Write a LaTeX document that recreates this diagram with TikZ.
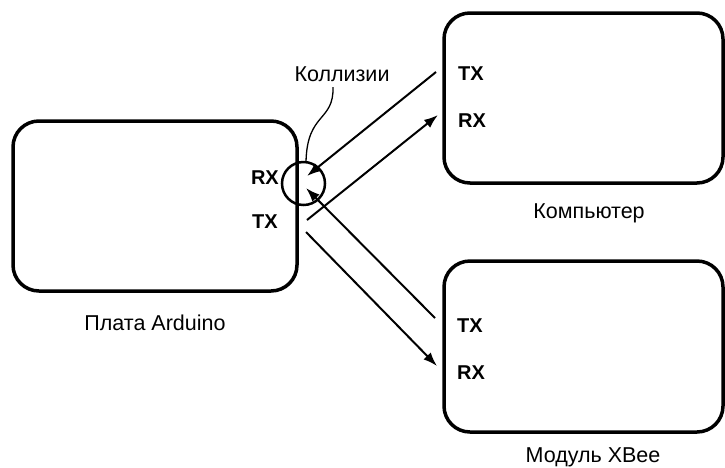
\documentclass[tikz,border=0pt]{standalone}
\usepackage{fontspec}
\setmainfont{Liberation Sans}
\usetikzlibrary{arrows.meta}
\begin{document}
\begin{tikzpicture}[x=1pt,y=-1pt,
  board/.style={draw, line width=3.5pt, rounded corners=26pt, inner sep=0pt},
  pin/.style={font=\bfseries\fontsize{20}{20}\selectfont, inner sep=0pt},
  caption/.style={font=\fontsize{21.5}{21.5}\selectfont, inner sep=0pt, anchor=base},
  wire/.style={line width=2pt, -{Latex[length=14pt,width=10pt]}},
]
\useasboundingbox (0,0) rectangle (725,467);

% boards
\node[board, minimum width=284pt, minimum height=170pt] (ard) at (155,206) {};
\node[board, minimum width=279pt, minimum height=170pt] (pc) at (583.5,98) {};
\node[board, minimum width=279pt, minimum height=171pt] (xb) at (583.5,346.5) {};

% pin labels
\node[pin, anchor=base east] (ardrx) at (279,184) {RX};
\node[pin, anchor=base east] (ardtx) at (278,228) {TX};
\node[pin, anchor=base west] (pctx) at (458,80) {TX};
\node[pin, anchor=base west] (pcrx) at (458,127) {RX};
\node[pin, anchor=base west] (xbtx) at (457,332) {TX};
\node[pin, anchor=base west] (xbrx) at (457,379) {RX};

% captions
\node[caption] (ardcap) at (155,330) {Плата Arduino};
\node[caption] (pccap) at (589,218) {Компьютер};
\node[caption] (xbcap) at (593,462) {Модуль XBee};
\node[caption] (coll) at (342,81) {Коллизии};

% wire end points
\coordinate (a1) at (307,176);
\coordinate (a2) at (307,220);
\coordinate (a3) at (306,188);
\coordinate (a4) at (306,232);
\coordinate (p1) at (436,72);
\coordinate (p2) at (438,115);
\coordinate (x1) at (435,318);
\coordinate (x2) at (437,366);

\draw[wire] (p1) -- (a1);
\draw[wire] (a2) -- (p2);
\draw[wire] (x1) -- (a3);
\draw[wire] (a4) -- (x2);

% collision marker
\node[draw, circle, line width=2.5pt, minimum size=43pt, inner sep=0pt] (ring) at (303.5,183.5) {};
\coordinate (tag) at (333,87);
\coordinate (lead) at (306,162);
\draw[line width=1.3pt] (tag) .. controls (334,122) and (307,112) .. (lead);
\end{tikzpicture}
\end{document}
